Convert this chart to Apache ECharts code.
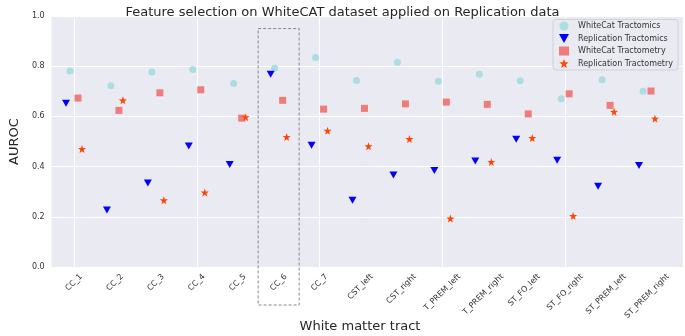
<!DOCTYPE html>
<html>
<head>
<meta charset="utf-8">
<script src="https://cdn.jsdelivr.net/npm/echarts@6/dist/echarts.min.js"></script>
<style>
  html, body { margin: 0; padding: 0; background: #fff; }
  #chart { width: 685px; height: 336px; }
</style>
</head>
<body>
<div id="chart"></div>
<script>
// tracts on the x axis
const categories = ['CC_1', 'CC_2', 'CC_3', 'CC_4', 'CC_5', 'CC_6', 'CC_7', 'CST_left', 'CST_right',
  'T_PREM_left', 'T_PREM_right', 'ST_FO_left', 'ST_FO_right', 'ST_PREM_left', 'ST_PREM_right']

// AUROC per tract
const whitecatTractomics = [0.781, 0.722, 0.777, 0.787, 0.731, 0.792, 0.835, 0.743, 0.816, 0.740, 0.768, 0.742, 0.670, 0.746, 0.700]
const replicationTractomics = [0.652, 0.227, 0.335, 0.482, 0.408, 0.768, 0.485, 0.266, 0.367, 0.384, 0.422, 0.509, 0.425, 0.322, 0.404]
const whitecatTractometry = [0.673, 0.624, 0.694, 0.706, 0.593, 0.664, 0.629, 0.632, 0.650, 0.657, 0.648, 0.610, 0.690, 0.644, 0.701]
const replicationTractometry = [0.470, 0.664, 0.266, 0.297, 0.597, 0.518, 0.543, 0.481, 0.510, 0.193, 0.418, 0.514, 0.203, 0.618, 0.591]

const yTicks = [0, 0.2, 0.4, 0.6, 0.8, 1.0]
const highlighted = 'CC_6'

const downTriangle = 'path://M0,0 L10,0 L5,9 Z'
const star = 'path://M0,-10 L2.35,-3.24 L9.51,-3.09 L3.8,1.24 L5.88,8.09 L0,4 L-5.88,8.09 L-3.8,1.24 L-9.51,-3.09 L-2.35,-3.24 Z'

const chart = echarts.init(document.getElementById('chart'))

function pairs(vals) {
  return categories.map((c, i) => [c, vals[i]])
}

function dot(name, vals, symbol, size, color, dx, z) {
  return {
    name: name,
    type: 'scatter',
    xAxisIndex: 1,
    yAxisIndex: 1,
    symbol: symbol,
    symbolSize: size,
    symbolOffset: [dx, 0],
    clip: false,
    z: z,
    itemStyle: { color: color, opacity: 1 },
    data: pairs(vals)
  }
}

const fontFamily = 'DejaVu Sans'
const tickFont = 8

const option = {
  animation: false,
  textStyle: { fontFamily: fontFamily },
  title: {
    text: 'Feature selection on WhiteCAT dataset applied on Replication data',
    left: 'center',
    top: 1,
    textStyle: { fontSize: 13, fontWeight: 'normal', color: '#262626', fontFamily: fontFamily }
  },
  legend: {
    orient: 'vertical',
    left: 553,
    top: 19.5,
    itemGap: 3.5,
    itemWidth: 10,
    itemHeight: 9,
    padding: [2, 5, 2, 6],
    backgroundColor: '#eaeaf2',
    borderColor: '#d0d0d8',
    borderWidth: 1,
    borderRadius: 3,
    textStyle: { fontSize: 8, color: '#333', fontFamily: fontFamily, padding: [0, 0, 0, 4] },
    data: ['WhiteCat Tractomics', 'Replication Tractomics', 'WhiteCat Tractometry', 'Replication Tractometry']
  },
  grid: [
    { left: 36, right: 2, top: 16, bottom: 69, show: true, backgroundColor: '#eaeaf2', borderWidth: 0 },
    { left: 74, right: 38, top: 16, bottom: 69 }
  ],
  xAxis: [
    { gridIndex: 0, type: 'value', min: 0, max: 1, show: false },
    {
      gridIndex: 1,
      type: 'category',
      data: categories,
      boundaryGap: false,
      axisLine: { show: false },
      axisTick: { show: false },
      splitLine: { show: true, lineStyle: { color: '#ffffff', width: 1 } },
      axisLabel: { show: false }
    }
  ],
  yAxis: [
    {
      gridIndex: 0,
      type: 'value',
      min: 0,
      max: 1,
      interval: 0.2,
      name: 'AUROC',
      nameLocation: 'middle',
      nameGap: 26,
      nameTextStyle: { fontSize: 13, color: '#262626', fontFamily: fontFamily },
      axisLine: { show: false },
      axisTick: { show: false },
      splitLine: { show: true, lineStyle: { color: '#ffffff', width: 1 } },
      axisLabel: { fontSize: tickFont, color: '#333', margin: 7, formatter: v => v.toFixed(1), fontFamily: fontFamily,
        customValues: yTicks }
    },
    { gridIndex: 1, type: 'value', min: 0, max: 1, show: false }
  ],
  series: [
    dot('WhiteCat Tractomics', whitecatTractomics, 'circle', 7, '#abdde3', -4, 3),
    dot('Replication Tractomics', replicationTractomics, downTriangle, [8, 7], '#0000ff', -8, 4),
    dot('WhiteCat Tractometry', whitecatTractometry, 'rect', 7, '#ef7c7a', 4, 5),
    dot('Replication Tractometry', replicationTractometry, star, 8, '#ff4500', 8, 6)
  ]
}

chart.setOption(option)

// x labels: rotated 45deg, box centred under the tick (matplotlib style)
const ctx = document.createElement('canvas').getContext('2d')
ctx.font = tickFont + 'px "' + fontFamily + '"'
const axisBottom = chart.convertToPixel({ yAxisIndex: 0 }, 0)
const lineH = tickFont * 1.17
const labels = categories.map(c => {
  const w = ctx.measureText(c).width
  const boxH = (w + lineH) / Math.SQRT2
  return {
    type: 'text',
    x: chart.convertToPixel({ xAxisIndex: 1 }, c),
    y: axisBottom + 5 + boxH / 2,
    rotation: Math.PI / 4,
    style: { text: c, fontSize: tickFont, fill: '#333', align: 'center', verticalAlign: 'middle', fontFamily: fontFamily }
  }
})

// dashed box around the highlighted tract
const cx = chart.convertToPixel({ xAxisIndex: 1 }, highlighted)
const topY = chart.convertToPixel({ yAxisIndex: 0 }, 0.95)
chart.setOption({
  graphic: labels.concat([
    {
      type: 'text',
      x: 360,
      y: 327,
      style: { text: 'White matter tract', fontSize: 13, fill: '#262626', align: 'center', verticalAlign: 'middle', fontFamily: fontFamily }
    },
    {
      type: 'rect',
      shape: { x: cx - 20.5, y: topY, width: 41, height: 305 - topY },
      style: { fill: 'none', stroke: '#888', lineWidth: 1, lineDash: [3, 2] },
      z: 10
    }
  ])
})
</script>
</body>
</html>
